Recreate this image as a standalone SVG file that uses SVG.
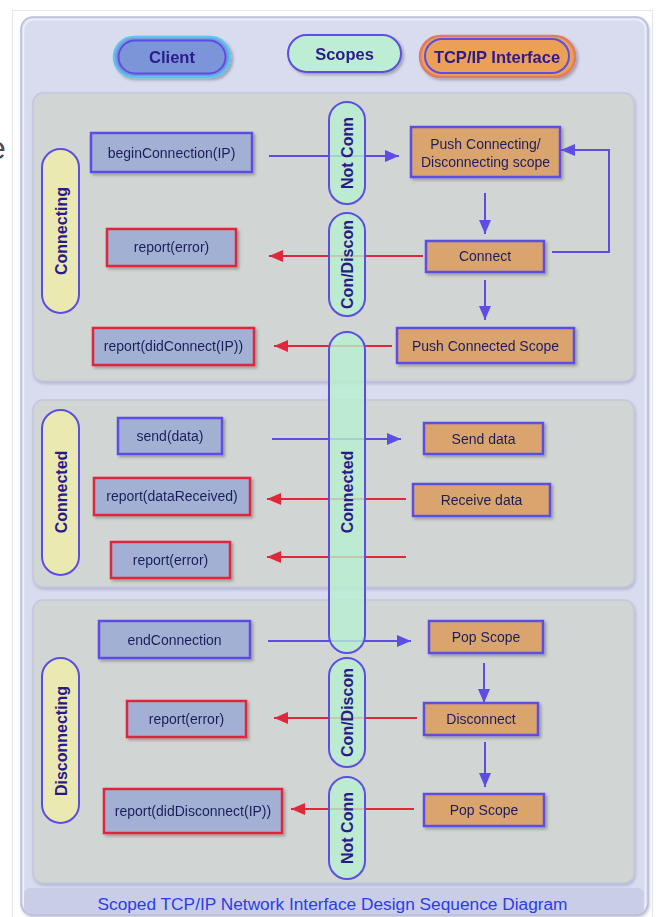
<svg xmlns="http://www.w3.org/2000/svg" width="657" height="917" viewBox="0 0 657 917">
<defs>
<filter id="sh" x="-20%" y="-20%" width="140%" height="160%">
<feDropShadow dx="2" dy="2" stdDeviation="1.6" flood-color="#000" flood-opacity="0.28"/>
</filter>
<filter id="shs" x="-5%" y="-5%" width="110%" height="115%">
<feDropShadow dx="1" dy="2" stdDeviation="1.5" flood-color="#8088a8" flood-opacity="0.45"/>
</filter>
<marker id="ab" markerWidth="14" markerHeight="12" refX="14" refY="6" orient="auto" markerUnits="userSpaceOnUse">
<path d="M0,0 L14,6 L0,12 z" fill="#5c4ee5"/>
</marker>
<marker id="ar" markerWidth="14" markerHeight="12" refX="14" refY="6" orient="auto" markerUnits="userSpaceOnUse">
<path d="M0,0 L14,6 L0,12 z" fill="#e0283c"/>
</marker>
</defs>
<style>
text{font-family:"Liberation Sans",Arial,sans-serif;}
.lbl{font-size:14px;fill:#1e1e5c;text-anchor:middle;}
.hd{font-size:16.5px;font-weight:bold;fill:#2b1a8c;text-anchor:middle;}
.vt{font-size:16px;font-weight:bold;fill:#2b1a8c;text-anchor:middle;}
.sec{fill:#d1d5d4;stroke:#c4c8dd;stroke-width:1.5;}
.cb{fill:#a2b1d3;stroke:#5c4ee5;stroke-width:2.5;}
.cr{fill:#a2b1d3;stroke:#e0283c;stroke-width:2.5;}
.ob{fill:#d9a46e;stroke:#5c4ee5;stroke-width:2.5;}
.yp{fill:#eae9b2;stroke:#5c4ee5;stroke-width:2;}
.gp{fill:#b8f0d0;fill-opacity:0.8;stroke:#5c4ee5;stroke-width:2;}
.bl{stroke:#5c4ee5;stroke-width:2;fill:none;marker-end:url(#ab);}
.rl{stroke:#e0283c;stroke-width:2;fill:none;marker-end:url(#ar);}
</style>
<rect width="657" height="917" fill="#ffffff"/>
<rect x="12.5" y="10.5" width="640" height="920" fill="#ffffff" stroke="#e6e6e6" stroke-width="1"/>
<text x="-12" y="159" font-size="32" fill="#4a4a5c">e</text>
<g id="panel">
<rect x="21" y="17" width="627" height="898" rx="12" fill="#d9dcef" stroke="#b9bcd6" stroke-width="1.5" filter="url(#shs)"/>
<rect x="23.5" y="19.5" width="622" height="893" rx="10" fill="none" stroke="#eceefa" stroke-width="1.5"/>
<rect x="24" y="888" width="620" height="26" rx="6" fill="#c9cde8"/>
<text x="332.5" y="910" font-size="17.3" fill="#2b3ee6" text-anchor="middle">Scoped TCP/IP Network Interface Design Sequence Diagram</text>
</g>
<g id="sections">
<rect id="sec-connecting" class="sec" x="33" y="93" width="601" height="288" rx="10" filter="url(#shs)"/>
<rect id="sec-connected" class="sec" x="33" y="400" width="601" height="187" rx="10" filter="url(#shs)"/>
<rect id="sec-disconnecting" class="sec" x="33" y="600" width="601" height="283" rx="10" filter="url(#shs)"/>
</g>
<g id="hdr-client" filter="url(#sh)">
<rect x="114" y="37" width="116" height="40" rx="20" fill="#7b95d8" stroke="#5bc3ec" stroke-width="2.5"/>
<rect x="118.5" y="40.5" width="107" height="33" rx="16.5" fill="none" stroke="#5c4ee5" stroke-width="2"/>
<text class="hd" x="172" y="63">Client</text>
</g>
<g id="hdr-scopes" filter="url(#sh)">
<rect x="288" y="35" width="113" height="37" rx="18.5" fill="#bdeed3" stroke="#5c4ee5" stroke-width="2"/>
<text class="hd" x="344.5" y="59.5">Scopes</text>
</g>
<g id="hdr-tcp" filter="url(#sh)">
<rect x="420" y="36" width="155" height="41" rx="20.5" fill="#eba057" stroke="#e07b63" stroke-width="2.5"/>
<rect x="425" y="39" width="144" height="34" rx="17" fill="none" stroke="#5c4ee5" stroke-width="2"/>
<text class="hd" x="497" y="63">TCP/IP Interface</text>
</g>
<g id="ph-connecting"><rect class="yp" x="42" y="149" width="37" height="164" rx="18.5"/><text class="vt" transform="translate(60.5,231) rotate(-90)" y="6">Connecting</text></g>
<g id="ph-connected"><rect class="yp" x="42" y="410" width="37" height="165" rx="18.5"/><text class="vt" transform="translate(60.5,492) rotate(-90)" y="6">Connected</text></g>
<g id="ph-disconnecting"><rect class="yp" x="42" y="658" width="37" height="165" rx="18.5"/><text class="vt" transform="translate(60.5,741) rotate(-90)" y="6">Disconnecting</text></g>
<g id="beginConnection" filter="url(#sh)"><rect class="cb" x="91" y="133" width="161" height="39"/><text class="lbl" x="171.5" y="157.5">beginConnection(IP)</text></g>
<g id="reportError1" filter="url(#sh)"><rect class="cr" x="107" y="229" width="129" height="37"/><text class="lbl" x="171.5" y="252">report(error)</text></g>
<g id="reportDidConnect" filter="url(#sh)"><rect class="cr" x="93" y="328" width="161" height="37"/><text class="lbl" x="173.5" y="351">report(didConnect(IP))</text></g>
<g id="pushConnecting" filter="url(#sh)"><rect class="ob" x="411" y="127" width="149" height="50"/><text class="lbl" x="485.5" y="149">Push Connecting/</text><text class="lbl" x="485.5" y="166.5">Disconnecting scope</text></g>
<g id="connect" filter="url(#sh)"><rect class="ob" x="426" y="241" width="118" height="31"/><text class="lbl" x="485" y="261">Connect</text></g>
<g id="pushConnected" filter="url(#sh)"><rect class="ob" x="397" y="328" width="177" height="35"/><text class="lbl" x="485.5" y="350.5">Push Connected Scope</text></g>
<g id="sendData" filter="url(#sh)"><rect class="cb" x="118" y="418" width="104" height="36"/><text class="lbl" x="170" y="441">send(data)</text></g>
<g id="reportDataReceived" filter="url(#sh)"><rect class="cr" x="94" y="478" width="156" height="37"/><text class="lbl" x="172" y="501">report(dataReceived)</text></g>
<g id="reportError2" filter="url(#sh)"><rect class="cr" x="111" y="542" width="119" height="36"/><text class="lbl" x="170.5" y="565">report(error)</text></g>
<g id="sendDataTcp" filter="url(#sh)"><rect class="ob" x="424" y="423" width="119" height="31"/><text class="lbl" x="483.5" y="443.5">Send data</text></g>
<g id="receiveData" filter="url(#sh)"><rect class="ob" x="413" y="484" width="137" height="32"/><text class="lbl" x="481.5" y="505">Receive data</text></g>
<g id="endConnection" filter="url(#sh)"><rect class="cb" x="99" y="621" width="151" height="37"/><text class="lbl" x="174.5" y="644.5">endConnection</text></g>
<g id="reportError3" filter="url(#sh)"><rect class="cr" x="127" y="701" width="119" height="36"/><text class="lbl" x="186.5" y="724">report(error)</text></g>
<g id="reportDidDisconnect" filter="url(#sh)"><rect class="cr" x="104" y="789" width="178" height="44"/><text class="lbl" x="193" y="816">report(didDisconnect(IP))</text></g>
<g id="popScope1" filter="url(#sh)"><rect class="ob" x="429" y="621" width="114" height="32"/><text class="lbl" x="486" y="642">Pop Scope</text></g>
<g id="disconnect" filter="url(#sh)"><rect class="ob" x="424" y="703" width="114" height="32"/><text class="lbl" x="481" y="724">Disconnect</text></g>
<g id="popScope2" filter="url(#sh)"><rect class="ob" x="424" y="794" width="120" height="32"/><text class="lbl" x="484" y="815">Pop Scope</text></g>
<g id="connectors">
<path class="bl" d="M269,156 H399"/>
<path class="bl" d="M485,193 V234"/>
<path class="bl" d="M552,252 H609 V150 H561"/>
<path class="bl" d="M485,280 V320"/>
<path class="rl" d="M423,256 H269"/>
<path class="rl" d="M392,346 H274"/>
<path class="bl" d="M272,439 H401"/>
<path class="rl" d="M406,499 H267"/>
<path class="rl" d="M406,557 H267"/>
<path class="bl" d="M268,641 H411"/>
<path class="bl" d="M484,663 V703"/>
<path class="bl" d="M485,742 V787"/>
<path class="rl" d="M417,718 H274"/>
<path class="rl" d="M414,809 H291"/>
</g>
<g id="scope-notconn1"><rect class="gp" x="329" y="102" width="36" height="102" rx="18"/><text class="vt" transform="translate(347,153) rotate(-90)" y="6">Not Conn</text></g>
<g id="scope-condiscon1"><rect class="gp" x="329" y="213" width="36" height="103" rx="18"/><text class="vt" transform="translate(347,264.5) rotate(-90)" y="6">Con/Discon</text></g>
<g id="scope-connected"><rect class="gp" x="329" y="332" width="36" height="321" rx="18"/><text class="vt" transform="translate(347,492) rotate(-90)" y="6">Connected</text></g>
<g id="scope-condiscon2"><rect class="gp" x="329" y="658" width="36" height="109" rx="18"/><text class="vt" transform="translate(347,712.5) rotate(-90)" y="6">Con/Discon</text></g>
<g id="scope-notconn2"><rect class="gp" x="329" y="777" width="36" height="102" rx="18"/><text class="vt" transform="translate(347,828) rotate(-90)" y="6">Not Conn</text></g>
</svg>
